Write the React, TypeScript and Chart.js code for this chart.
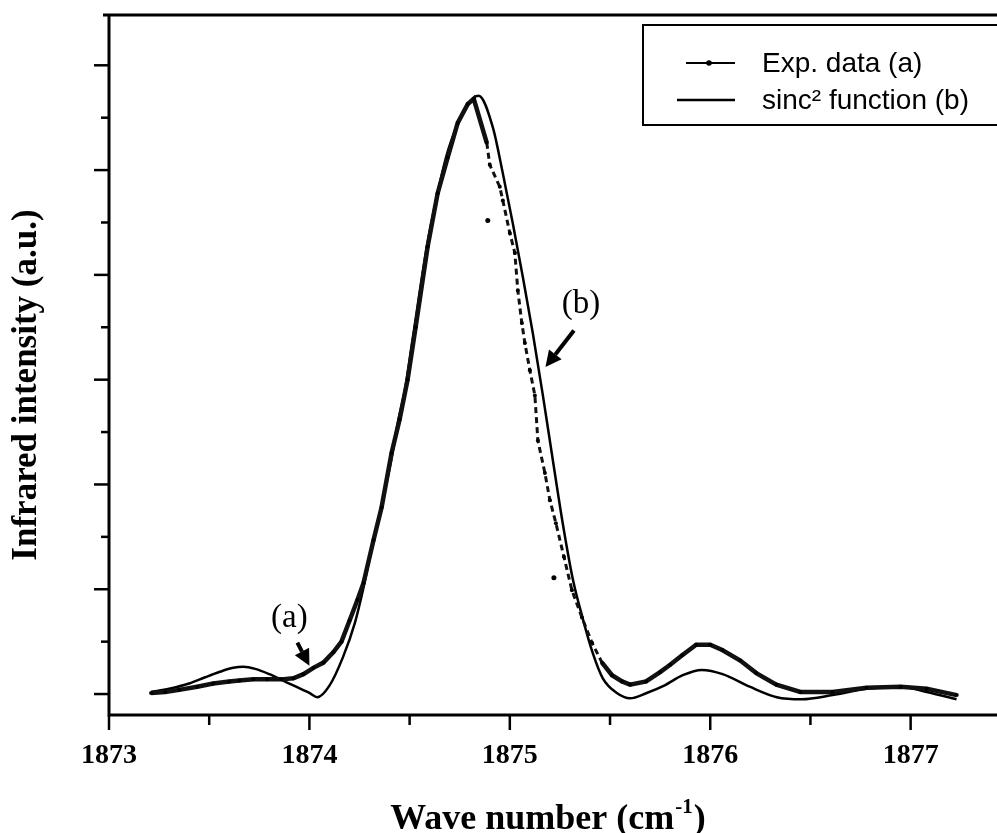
import React, { useEffect, useRef } from "react";
import { Chart, registerables } from "chart.js";

Chart.register(...registerables);

// ---------- data ----------
const xTickValues = [1873, 1874, 1875, 1876, 1877];

const expX = [
  1873.21, 1873.28, 1873.35, 1873.44, 1873.52, 1873.6, 1873.65, 1873.72, 1873.79, 1873.86,
  1873.92, 1873.97, 1874.02, 1874.07, 1874.12, 1874.16, 1874.2, 1874.24, 1874.27, 1874.32,
  1874.36, 1874.41, 1874.45, 1874.49, 1874.53, 1874.59, 1874.64, 1874.69, 1874.74, 1874.79,
  1874.82, 1874.885, 1874.9, 1874.95, 1874.965, 1875.0, 1875.025, 1875.04, 1875.06, 1875.075,
  1875.1, 1875.125, 1875.14, 1875.175, 1875.2, 1875.23, 1875.27, 1875.31, 1875.36, 1875.41,
  1875.46, 1875.51, 1875.56, 1875.6, 1875.68, 1875.75, 1875.8, 1875.86, 1875.93, 1876.0,
  1876.06, 1876.15, 1876.23, 1876.33, 1876.45, 1876.61, 1876.78, 1876.95, 1877.08, 1877.23,
];
const expY = [
  0.01, 0.02, 0.04, 0.07, 0.1, 0.12, 0.13, 0.14, 0.14, 0.14,
  0.15, 0.19, 0.25, 0.3, 0.4, 0.5, 0.7, 0.9, 1.06, 1.47,
  1.78, 2.3, 2.62, 3.0, 3.5, 4.27, 4.78, 5.12, 5.45, 5.63,
  5.68, 5.26, 5.05, 4.84, 4.71, 4.4, 4.21, 3.85, 3.54, 3.35,
  3.09, 2.85, 2.42, 2.11, 1.85, 1.63, 1.31, 0.99, 0.73, 0.49,
  0.3, 0.18, 0.12, 0.09, 0.12, 0.21, 0.28, 0.37, 0.47, 0.47,
  0.42, 0.32, 0.2, 0.09, 0.02, 0.02, 0.06, 0.07, 0.05, -0.01,
];

const sincX = [
  1873.21, 1873.3, 1873.4, 1873.48, 1873.55, 1873.62, 1873.67, 1873.73, 1873.8, 1873.9,
  1874.0, 1874.04, 1874.1, 1874.167, 1874.227, 1874.267, 1874.302, 1874.342, 1874.377, 1874.411,
  1874.441, 1874.476, 1874.516, 1874.586, 1874.636, 1874.686, 1874.736, 1874.786, 1874.845, 1874.915,
  1874.965, 1875.015, 1875.065, 1875.115, 1875.165, 1875.214, 1875.264, 1875.314, 1875.364, 1875.414,
  1875.464, 1875.534, 1875.6, 1875.683, 1875.77, 1875.863, 1875.958, 1876.062, 1876.197, 1876.332,
  1876.456, 1876.611, 1876.781, 1876.945, 1877.08, 1877.229,
];
const sincY = [
  0.02, 0.05, 0.1, 0.16, 0.21, 0.25, 0.26, 0.24, 0.19, 0.1,
  0.01, -0.03, 0.08, 0.35, 0.68, 0.99, 1.31, 1.63, 1.95, 2.26,
  2.59, 2.9, 3.4, 4.27, 4.75, 5.15, 5.42, 5.62, 5.71, 5.41,
  4.97, 4.49, 3.98, 3.44, 2.85, 2.24, 1.63, 1.1, 0.72, 0.39,
  0.15, 0.01, -0.04, 0.01, 0.08, 0.18, 0.23, 0.19, 0.07, -0.03,
  -0.05, -0.01, 0.05, 0.07, 0.02, -0.05,
];

const strayX = [1874.89, 1875.22];
const strayY = [4.52, 1.11];

const seriesLabels = ["Exp. data (a)", "sinc\u00B2 function (b)"];
const xTitleMain = "Wave number (cm";
const xTitleSup = "-1";
const xTitleEnd = ")";
const yTitle = "Infrared intensity (a.u.)";

// annotation labels with arrow (text anchor, arrow tail, arrow tip) in data units
const notes = [
  { text: "(a)", tx: 1873.9, ty: 0.72, x0: 1873.94, y0: 0.49, x1: 1874.0, y1: 0.27 },
  { text: "(b)", tx: 1875.355, ty: 3.72, x0: 1875.32, y0: 3.47, x1: 1875.178, y1: 3.12 },
];

const X_MIN = 1873;
const X_MAX = 1877.9;
const Y_MIN = -0.2;
const Y_MAX = 6.48;

const SERIF = "'Liberation Serif', 'Times New Roman', 'DejaVu Serif', serif";
const SANS = "'Liberation Sans', Arial, 'DejaVu Sans', sans-serif";

const decorPlugin = {
  id: "decor",
  afterDraw(chart: any) {
    const { ctx, chartArea, scales } = chart;
    const xs = scales.x;
    const ys = scales.y;
    const W = chart.width;
    ctx.save();
    ctx.strokeStyle = "#000";
    ctx.fillStyle = "#000";
    ctx.lineCap = "butt";

    // frame
    ctx.lineWidth = 3;
    ctx.beginPath();
    ctx.moveTo(chartArea.left, chartArea.top - 1);
    ctx.lineTo(chartArea.left, chartArea.bottom + 1.5);
    ctx.moveTo(chartArea.left - 1.5, chartArea.bottom);
    ctx.lineTo(W, chartArea.bottom);
    ctx.moveTo(chartArea.left - 6, chartArea.top);
    ctx.lineTo(W, chartArea.top);
    ctx.stroke();

    // x ticks (major + minor)
    ctx.lineWidth = 2.5;
    for (let v = X_MIN; v <= X_MAX + 1e-9; v += 0.5) {
      const px = xs.getPixelForValue(v);
      const major = Math.abs(v - Math.round(v)) < 1e-6;
      ctx.beginPath();
      ctx.moveTo(px, chartArea.bottom);
      ctx.lineTo(px, chartArea.bottom + (major ? 15 : 10));
      ctx.stroke();
    }
    // y ticks
    for (let v = 0; v <= 6 + 1e-9; v += 0.5) {
      const py = ys.getPixelForValue(v);
      const major = Math.abs(v - Math.round(v)) < 1e-6;
      ctx.beginPath();
      ctx.moveTo(chartArea.left, py);
      ctx.lineTo(chartArea.left - (major ? 15 : 8), py);
      ctx.stroke();
    }

    // y title
    ctx.save();
    ctx.translate(27, 385);
    ctx.rotate(-Math.PI / 2);
    ctx.font = `bold 35px ${SERIF}`;
    ctx.textAlign = "center";
    ctx.textBaseline = "middle";
    ctx.fillText(yTitle, 0, 0);
    ctx.restore();

    // x title with superscript
    ctx.textAlign = "left";
    ctx.textBaseline = "alphabetic";
    const mainFont = `bold 36px ${SERIF}`;
    const supFont = `bold 21px ${SERIF}`;
    ctx.font = mainFont;
    const w1 = ctx.measureText(xTitleMain).width;
    const w3 = ctx.measureText(xTitleEnd).width;
    ctx.font = supFont;
    const w2 = ctx.measureText(xTitleSup).width;
    const cx = 548;
    const base = 829;
    let sx = cx - (w1 + w2 + w3 + 2) / 2;
    ctx.font = mainFont;
    ctx.fillText(xTitleMain, sx, base);
    sx += w1 + 1;
    ctx.font = supFont;
    ctx.fillText(xTitleSup, sx, base - 16);
    sx += w2 + 1;
    ctx.font = mainFont;
    ctx.fillText(xTitleEnd, sx, base);

    // legend box
    const ds = chart.data.datasets;
    ctx.lineWidth = 2;
    ctx.strokeRect(643, 25, W, 100);
    const rowsY = [63, 100];
    ctx.font = `28px ${SANS}`;
    ctx.textBaseline = "middle";
    ctx.textAlign = "left";
    for (let i = 0; i < 2; i++) {
      const y = rowsY[i];
      ctx.beginPath();
      ctx.lineWidth = i === 0 ? 2 : 2.5;
      ctx.moveTo(i === 0 ? 686 : 677, y);
      ctx.lineTo(735, y);
      ctx.stroke();
      if (i === 0) {
        ctx.beginPath();
        ctx.arc(709, y, 2.8, 0, Math.PI * 2);
        ctx.fill();
      }
      ctx.fillText(ds[i].label, 762, y + 1);
    }

    // annotations
    ctx.font = `33px ${SERIF}`;
    ctx.textAlign = "center";
    ctx.textBaseline = "middle";
    for (const n of notes) {
      ctx.fillText(n.text, xs.getPixelForValue(n.tx), ys.getPixelForValue(n.ty));
      const ax = xs.getPixelForValue(n.x0);
      const ay = ys.getPixelForValue(n.y0);
      const bx = xs.getPixelForValue(n.x1);
      const by = ys.getPixelForValue(n.y1);
      const ang = Math.atan2(by - ay, bx - ax);
      const headL = 16;
      const headW = 8;
      const hx = bx - headL * Math.cos(ang);
      const hy = by - headL * Math.sin(ang);
      ctx.lineWidth = 4;
      ctx.beginPath();
      ctx.moveTo(ax, ay);
      ctx.lineTo(hx, hy);
      ctx.stroke();
      ctx.beginPath();
      ctx.moveTo(bx, by);
      ctx.lineTo(hx + headW * Math.sin(ang), hy - headW * Math.cos(ang));
      ctx.lineTo(hx - headW * Math.sin(ang), hy + headW * Math.cos(ang));
      ctx.closePath();
      ctx.fill();
    }
    ctx.restore();
  },
};

export default function App() {
  const ref = useRef<HTMLCanvasElement | null>(null);

  useEffect(() => {
    document.body.style.margin = "0";
    document.documentElement.style.overflow = "hidden";
    const canvas = ref.current;
    if (!canvas) return;
    const flank = (ctx: any) =>
      ctx.p0.parsed.x >= 1874.86 && ctx.p1.parsed.x <= 1875.5;
    const chart = new Chart(canvas, {
      type: "line",
      data: {
        datasets: [
          {
            label: seriesLabels[0],
            data: expX.map((x, i) => ({ x, y: expY[i] })),
            borderColor: "#111",
            backgroundColor: "#000",
            borderWidth: 4.5,
            pointRadius: 2,
            pointBorderWidth: 0,
            pointBackgroundColor: "#000",
            tension: 0,
            segment: {
              borderDash: (ctx: any) => (flank(ctx) ? [6, 4] : undefined),
              borderWidth: (ctx: any) => (flank(ctx) ? 3 : undefined),
            },
          } as any,
          {
            label: seriesLabels[1],
            data: sincX.map((x, i) => ({ x, y: sincY[i] })),
            borderColor: "#000",
            borderWidth: 2.5,
            pointRadius: 0,
            cubicInterpolationMode: "monotone",
          } as any,
          {
            label: "stray points",
            data: strayX.map((x, i) => ({ x, y: strayY[i] })),
            showLine: false,
            pointRadius: 2.5,
            pointBorderWidth: 0,
            pointBackgroundColor: "#000",
          } as any,
        ],
      },
      options: {
        animation: false,
        responsive: false,
        devicePixelRatio: 1,
        layout: { padding: { left: 0, right: 9, top: 15, bottom: 0 } },
        plugins: {
          legend: { display: false },
          tooltip: { enabled: false },
        },
        scales: {
          x: {
            type: "linear",
            min: X_MIN,
            max: X_MAX,
            grid: { display: false },
            border: { display: false },
            ticks: {
              stepSize: 1,
              includeBounds: false,
              autoSkip: false,
              maxRotation: 0,
              padding: 16,
              color: "#000",
              font: { family: SERIF, size: 28, weight: "bold" },
              callback: (v: any) =>
                xTickValues.includes(Number(v)) ? String(v) : "",
            },
            afterFit: (s: any) => {
              s.height = 118;
            },
          },
          y: {
            type: "linear",
            min: Y_MIN,
            max: Y_MAX,
            grid: { display: false },
            border: { display: false },
            ticks: { display: false },
            afterFit: (s: any) => {
              s.width = 109;
            },
          },
        },
      } as any,
      plugins: [decorPlugin],
    });
    return () => chart.destroy();
  }, []);

  return (
    <div
      style={{
        width: 997,
        height: 833,
        overflow: "hidden",
        background: "#fff",
      }}
    >
      <canvas ref={ref} width={1100} height={833} style={{ display: "block" }} />
    </div>
  );
}
